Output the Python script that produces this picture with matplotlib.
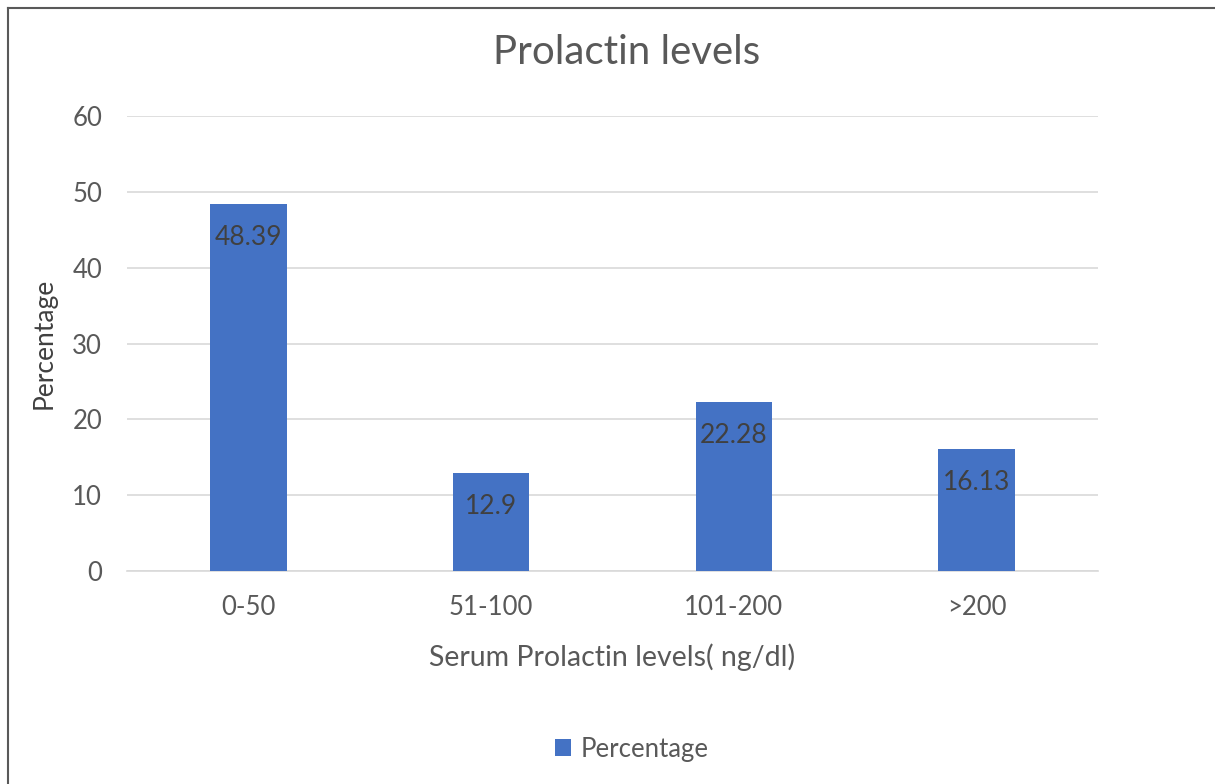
import matplotlib
matplotlib.use("Agg")
import matplotlib.pyplot as plt
from matplotlib.lines import Line2D

categories = ["0-50", "51-100", "101-200", ">200"]
percentages = [48.39, 12.9, 22.28, 16.13]
value_labels = ["48.39", "12.9", "22.28", "16.13"]
y_ticks = [0, 10, 20, 30, 40, 50, 60]

plt.rcParams["font.family"] = ["Lato", "DejaVu Sans"]

BAR_COLOR = "#4472C4"
TEXT_GRAY = "#595959"
GRID_GRAY = "#D9D9D9"

W, H = 1215, 784
fig = plt.figure(figsize=(W / 100, H / 100), dpi=100)
fig.patch.set_facecolor("white")

# plot area in pixel coordinates
left, right, top, bottom = 127, 1098, 116, 571
ax = fig.add_axes([left / W, 1 - bottom / H, (right - left) / W, (bottom - top) / H])

x = list(range(len(categories)))
bars = ax.bar(x, percentages, width=0.315, color=BAR_COLOR, zorder=3, label="Percentage")

ax.set_xlim(-0.5, len(categories) - 0.5)
ax.set_ylim(0, 60)
ax.set_yticks(y_ticks)
ax.set_xticks(x)
ax.set_xticklabels(categories)

ax.grid(axis="y", color=GRID_GRAY, linewidth=1.2, zorder=0)
for side in ["top", "right", "left"]:
    ax.spines[side].set_visible(False)
ax.spines["bottom"].set_color(GRID_GRAY)
ax.spines["bottom"].set_linewidth(1.2)
ax.tick_params(axis="both", length=0, labelsize=18.5, labelcolor=TEXT_GRAY)
ax.tick_params(axis="y", pad=18)
ax.tick_params(axis="x", pad=17)

# value labels just inside the top of each bar
for rect, txt in zip(bars, value_labels):
    ax.annotate(txt, xy=(rect.get_x() + rect.get_width() / 2, rect.get_height()),
                xytext=(0, -24), textcoords="offset points",
                ha="center", va="center", fontsize=19, color="#404040", zorder=4)

ax.set_xlabel("Serum Prolactin levels( ng/dl)", fontsize=20.5, color=TEXT_GRAY, labelpad=17)
ax.set_ylabel("Percentage", fontsize=19, color="#404040", labelpad=11)

fig.text(627 / W, 1 - 52 / H, "Prolactin levels", ha="center", va="center",
         fontsize=29, color=TEXT_GRAY)

fig.legend(handles=[bars], labels=["Percentage"], loc="center",
           bbox_to_anchor=(632 / W, 1 - 749 / H), frameon=False,
           fontsize=18.5, labelcolor=TEXT_GRAY, handlelength=0.6, handleheight=0.6,
           handletextpad=0.4)

# outer frame (left and top edges)
fig.add_artist(Line2D([8 / W, 8 / W], [0, 1 - 8 / H], transform=fig.transFigure,
                      color="#595959", linewidth=1.5))
fig.add_artist(Line2D([8 / W, 1], [1 - 8 / H, 1 - 8 / H], transform=fig.transFigure,
                      color="#595959", linewidth=1.5))

fig.savefig("out.png", dpi=100)
